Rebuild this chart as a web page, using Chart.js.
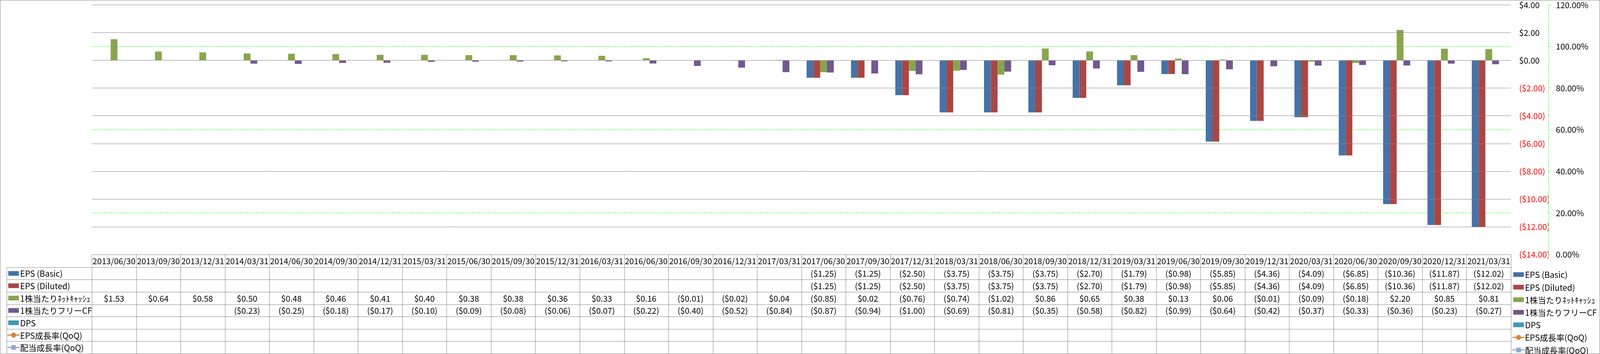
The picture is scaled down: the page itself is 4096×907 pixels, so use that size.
<!DOCTYPE html>
<html>
<head>
<meta charset="utf-8">
<script src="https://cdn.jsdelivr.net/npm/chart.js@4.4.1/dist/chart.umd.min.js"></script>
<style>
html,body{margin:0;padding:0;background:#fff;overflow:hidden;}
canvas{display:block;}
</style>
</head>
<body>
<canvas id="c" width="4096" height="907"></canvas>
<script>
// ---- data ----
const categories = ['2013/06/30','2013/09/30','2013/12/31','2014/03/31','2014/06/30','2014/09/30','2014/12/31',
  '2015/03/31','2015/06/30','2015/09/30','2015/12/31','2016/03/31','2016/06/30','2016/09/30','2016/12/31',
  '2017/03/31','2017/06/30','2017/09/30','2017/12/31','2018/03/31','2018/06/30','2018/09/30','2018/12/31',
  '2019/03/31','2019/06/30','2019/09/30','2019/12/31','2020/03/31','2020/06/30','2020/09/30','2020/12/31','2021/03/31'];

const epsBasic = [null,null,null,null,null,null,null,null,null,null,null,null,null,null,null,null,
  -1.25,-1.25,-2.50,-3.75,-3.75,-3.75,-2.70,-1.79,-0.98,-5.85,-4.36,-4.09,-6.85,-10.36,-11.87,-12.02];
const epsDiluted = [null,null,null,null,null,null,null,null,null,null,null,null,null,null,null,null,
  -1.25,-1.25,-2.50,-3.75,-3.75,-3.75,-2.70,-1.79,-0.98,-5.85,-4.36,-4.09,-6.85,-10.36,-11.87,-12.02];
const netCashPerShare = [1.53,0.64,0.58,0.50,0.48,0.46,0.41,0.40,0.38,0.38,0.36,0.33,0.16,-0.01,-0.02,0.04,
  -0.85,0.02,-0.76,-0.74,-1.02,0.86,0.65,0.38,0.13,0.06,-0.01,-0.09,-0.18,2.20,0.85,0.81];
const fcfPerShare = [null,null,null,-0.23,-0.25,-0.18,-0.17,-0.10,-0.09,-0.08,-0.06,-0.07,-0.22,-0.40,-0.52,-0.84,
  -0.87,-0.94,-1.00,-0.69,-0.81,-0.35,-0.58,-0.82,-0.99,-0.64,-0.42,-0.37,-0.33,-0.36,-0.23,-0.27];
const dps = [];
const epsGrowthQoQ = [];
const divGrowthQoQ = [];

const seriesNames = ['EPS (Basic)','EPS (Diluted)','1株当たりﾈｯﾄｷｬｯｼｭ','1株当たりフリーCF','DPS','EPS成長率(QoQ)','配当成長率(QoQ)'];
const seriesColors = ['#4572A7','#AA4643','#89A54E','#71588F','#4198AF','#DB843D','#93A9CF'];

const leftTicks = { min: -14, max: 4, step: 2 };
const rightTicks = { min: 0, max: 1.2, step: 0.2 };

// ---- helpers ----
const FONT = '"Noto Sans CJK JP", "Noto Sans", sans-serif';
const FS = 21;
const GRID = '#868686';
const GREEN = '#00FF00';
function money(v) {
  if (v === null || v === undefined) return '';
  return v < 0 ? '($' + Math.abs(v).toFixed(2) + ')' : '$' + v.toFixed(2);
}

const tablePlugin = {
  id: 'dataTable',
  afterDraw(chart) {
    const { ctx, chartArea: ca, scales } = chart;
    const x = scales.x, y1 = scales.y1;
    const W = chart.width, H = chart.height;
    const allSeries = chart.data.datasets.map(d => d.data);
    const n = chart.data.labels.length;
    const half = (x.getPixelForValue(1) - x.getPixelForValue(0)) / 2;
    const edges = [];
    for (let i = 0; i < n; i++) edges.push(x.getPixelForValue(i) - half);
    edges.push(x.getPixelForValue(n - 1) + half);

    const headTop = ca.bottom;
    const rowTop = headTop + 32.4;
    const bottom = H - 1;
    const rowH = (bottom - rowTop) / 7;
    const legLeft = 17.3;
    const px = v => Math.round(v) + 0.5;

    ctx.save();
    // dashed secondary axis line
    ctx.strokeStyle = GREEN; ctx.lineWidth = 1; ctx.setLineDash([4, 2]);
    ctx.beginPath(); ctx.moveTo(px(y1.left), ca.top); ctx.lineTo(px(y1.left), ca.bottom); ctx.stroke();
    ctx.setLineDash([]);

    // table grid
    ctx.strokeStyle = GRID; ctx.lineWidth = 1;
    ctx.beginPath();
    ctx.moveTo(px(edges[0]), px(headTop)); ctx.lineTo(px(edges[n]), px(headTop));
    for (let k = 0; k <= 7; k++) {
      const yy = px(rowTop + k * rowH);
      ctx.moveTo(px(legLeft), yy); ctx.lineTo(px(edges[n]), yy);
    }
    for (let i = 0; i <= n; i++) {
      ctx.moveTo(px(edges[i]), px(headTop)); ctx.lineTo(px(edges[i]), bottom);
    }
    ctx.moveTo(px(legLeft), px(rowTop)); ctx.lineTo(px(legLeft), bottom);
    ctx.stroke();

    // frame
    ctx.strokeRect(0.5, 0.5, W - 1, H - 1);

    // header text and values
    ctx.fillStyle = '#000';
    ctx.font = FS + 'px ' + FONT;
    ctx.textAlign = 'center'; ctx.textBaseline = 'middle';
    for (let i = 0; i < n; i++) {
      const cx = x.getPixelForValue(i);
      ctx.fillText(chart.data.labels[i], cx, headTop + 32.4 / 2 + 1);
      for (let r = 0; r < 7; r++) {
        const s = allSeries[r];
        const t = money(s[i]);
        if (t) ctx.fillText(t, cx, rowTop + r * rowH + rowH / 2 + 1);
      }
    }

    // legend drawing
    function swatch(r, x0, cy) {
      const col = seriesColors[r];
      if (r < 5) {
        ctx.fillStyle = col;
        ctx.fillRect(x0, cy - 6, 27, 12);
      } else {
        ctx.strokeStyle = col; ctx.lineWidth = 3;
        ctx.beginPath(); ctx.moveTo(x0 - 2, cy); ctx.lineTo(x0 + 29, cy); ctx.stroke();
        ctx.fillStyle = col;
        if (r === 5) {
          ctx.beginPath(); ctx.arc(x0 + 13.5, cy, 6.5, 0, Math.PI * 2); ctx.fill();
        } else {
          ctx.fillRect(x0 + 7.5, cy - 6, 12, 12);
        }
      }
    }
    ctx.textAlign = 'left';
    for (let r = 0; r < 7; r++) {
      const cy = rowTop + r * rowH + rowH / 2;
      swatch(r, 21.2, cy);
      ctx.fillStyle = '#000';
      ctx.fillText(chart.data.datasets[r].label, 51.6, cy + 1);
    }
    // right legend
    const rx = ca.right + 6;
    for (let r = 0; r < 7; r++) {
      const cy = 703.5 + r * 32.2;
      swatch(r, rx, cy);
      ctx.fillStyle = '#000';
      ctx.fillText(chart.data.datasets[r].label, rx + 30, cy + 1);
    }
    ctx.restore();
  }
};

const barSeries = [epsBasic, epsDiluted, netCashPerShare, fcfPerShare, dps];
const datasets = barSeries.map((d, i) => ({
  type: 'bar', label: seriesNames[i], data: d, backgroundColor: seriesColors[i],
  yAxisID: 'y', categoryPercentage: 0.765, barPercentage: 1.0, borderWidth: 0
}));
datasets.push({ type: 'line', label: seriesNames[5], data: epsGrowthQoQ, yAxisID: 'y1',
  borderColor: seriesColors[5], backgroundColor: seriesColors[5], pointStyle: 'circle' });
datasets.push({ type: 'line', label: seriesNames[6], data: divGrowthQoQ, yAxisID: 'y1',
  borderColor: seriesColors[6], backgroundColor: seriesColors[6], pointStyle: 'rect' });

function fixPad(s, w) { s.width = w; s.paddingTop = 0; s.paddingBottom = 0; }

new Chart(document.getElementById('c'), {
  type: 'bar',
  data: { labels: categories, datasets },
  options: {
    responsive: false, animation: false, devicePixelRatio: 1,
    layout: { padding: { left: 235.2, right: 0, top: 12.7, bottom: 254.7 } },
    plugins: { legend: { display: false }, tooltip: { enabled: false } },
    scales: {
      x: { display: false, grid: { display: false } },
      y: {
        position: 'right', weight: 1,
        min: leftTicks.min, max: leftTicks.max,
        ticks: {
          stepSize: leftTicks.step, padding: 21,
          font: { family: FONT, size: FS, lineHeight: 1 },
          color: c => (c.tick && c.tick.value < 0) ? '#FF0000' : '#000000',
          callback: v => money(v)
        },
        grid: { color: GRID, lineWidth: 1, drawTicks: false, z: 1 },
        border: { display: true, color: GRID, width: 1 },
        afterFit: s => fixPad(s, 96)
      },
      y1: {
        position: 'right', weight: 2,
        min: rightTicks.min, max: rightTicks.max,
        ticks: {
          stepSize: rightTicks.step, padding: 12,
          font: { family: FONT, size: FS, lineHeight: 1 },
          color: '#000000',
          callback: v => (v * 100).toFixed(2) + '%'
        },
        grid: {
          color: c => {
            if (!c.tick) return GREEN;
            const yS = c.chart.scales.y;
            const dv = yS.getValueForPixel(c.scale.getPixelForValue(c.tick.value));
            return Math.abs(dv / 2 - Math.round(dv / 2)) < 0.01 ? 'rgba(0,0,0,0)' : GREEN;
          },
          lineWidth: 1, drawTicks: true, tickLength: 7, tickColor: GREEN,
          tickBorderDash: [4, 2]
        },
        border: { display: false, dash: [4, 2] },
        afterFit: s => fixPad(s, 132)
      }
    }
  },
  plugins: [tablePlugin]
});
</script>
</body>
</html>
